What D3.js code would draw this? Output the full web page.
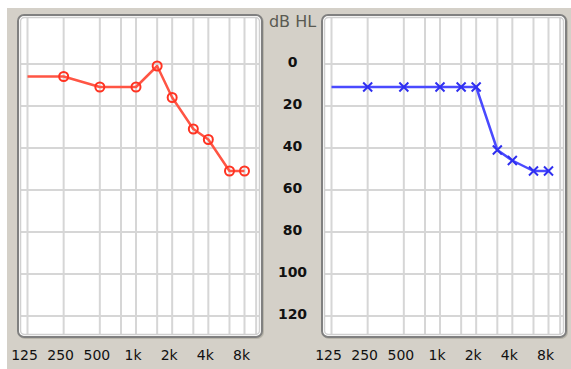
<!DOCTYPE html>
<html>
<head>
<meta charset="utf-8">
<script src="https://cdn.jsdelivr.net/npm/d3@7"></script>
<style>
  body { margin: 0; background: #fff; }
  svg text { font-family: "DejaVu Sans", Verdana, sans-serif; }
</style>
</head>
<body>
<svg id="chart" width="571" height="369"></svg>
<script>
// audiogram values (dB HL)
const freqs = [125, 250, 500, 1000, 1500, 2000, 3000, 4000, 6000, 8000];
const rightEar = [5, 5, 10, 10, 0, 15, 30, 35, 50, 50];
const leftEar = [10, 10, 10, 10, 10, 10, 40, 45, 50, 50];
const gridFreqs = [125, 250, 500, 750, 1000, 1500, 2000, 3000, 4000, 6000, 8000, 10000];
const labelFreqs = [125, 250, 500, 1000, 2000, 4000, 8000];
const freqLabels = ['125', '250', '500', '1k', '2k', '4k', '8k'];
const dbTicks = [0, 20, 40, 60, 80, 100, 120];

const width = 571;
const height = 369;
const svg = d3.select('#chart');

const panelW = 244, panelTop = 15, panelBottom = 337;
const panels = [
  { x0: 18, data: rightEar, color: '#ff3322', line: '#ff5544', mark: 'circle' },
  { x0: 322, data: leftEar, color: '#2f2ff0', line: '#4a4aff', mark: 'cross' }
];

// dB scale shared by both panels and the middle labels
const y = d3.scaleLinear().domain([0, 120]).range([64, 316]);

svg.append('rect')
  .attr('x', 7).attr('y', 8)
  .attr('width', width - 7).attr('height', height - 8)
  .attr('fill', '#d4d0c8');

const defs = svg.append('defs');

panels.forEach((p, idx) => {
  const x = d3.scaleLog()
    .domain([125, 8000])
    .range([p.x0 + 9.5, p.x0 + 226.5]);

  const clipId = 'clip' + idx;
  defs.append('clipPath').attr('id', clipId)
    .append('rect')
    .attr('x', p.x0 + 2).attr('y', panelTop + 2)
    .attr('width', panelW - 4).attr('height', panelBottom - panelTop - 4)
    .attr('rx', 5);

  // panel background + frame
  svg.append('rect')
    .attr('x', p.x0 + 1).attr('y', panelTop + 1)
    .attr('width', panelW).attr('height', panelBottom - panelTop)
    .attr('rx', 6)
    .attr('fill', 'none')
    .attr('stroke', '#b8b5aa')
    .attr('stroke-width', 2);
  svg.append('rect')
    .attr('x', p.x0).attr('y', panelTop)
    .attr('width', panelW).attr('height', panelBottom - panelTop)
    .attr('rx', 6)
    .attr('fill', '#fff')
    .attr('stroke', '#808080')
    .attr('stroke-width', 2);

  const g = svg.append('g').attr('clip-path', `url(#${clipId})`);

  g.selectAll('.vgrid')
    .data(gridFreqs)
    .enter()
    .append('line')
    .attr('class', 'vgrid')
    .attr('x1', d => x(d)).attr('x2', d => x(d))
    .attr('y1', panelTop).attr('y2', panelBottom)
    .attr('stroke', '#d6d6d6')
    .attr('stroke-width', 2);

  g.selectAll('.hgrid')
    .data(dbTicks)
    .enter()
    .append('line')
    .attr('class', 'hgrid')
    .attr('x1', p.x0).attr('x2', p.x0 + panelW)
    .attr('y1', d => y(d)).attr('y2', d => y(d))
    .attr('stroke', '#d6d6d6')
    .attr('stroke-width', 2);

  // inner light edge
  svg.append('rect')
    .attr('x', p.x0 + 2.5).attr('y', panelTop + 2.5)
    .attr('width', panelW - 5).attr('height', panelBottom - panelTop - 5)
    .attr('rx', 4)
    .attr('fill', 'none')
    .attr('stroke', '#d0d0d0')
    .attr('stroke-width', 1.5);

  const pts = freqs.map((f, i) => ({ f: f, v: p.data[i] }));
  const dg = g.append('g').attr('transform', 'translate(0,2)');

  dg.append('path')
    .datum(pts)
    .attr('fill', 'none')
    .attr('stroke', p.line)
    .attr('stroke-width', 2.5)
    .attr('stroke-linejoin', 'round')
    .attr('d', d3.line().x(d => x(d.f)).y(d => y(d.v)));

  // first point (125 Hz) has no symbol in the original
  const marks = dg.selectAll('.mark')
    .data(pts.slice(1))
    .enter()
    .append('g')
    .attr('class', 'mark')
    .attr('transform', d => `translate(${x(d.f)},${y(d.v)})`);

  if (p.mark === 'circle') {
    marks.append('circle')
      .attr('r', 4.5)
      .attr('fill', 'none')
      .attr('stroke', p.color)
      .attr('stroke-width', 2);
  } else {
    marks.append('path')
      .attr('d', 'M-4.5,-4.5L4.5,4.5M-4.5,4.5L4.5,-4.5')
      .attr('stroke', p.color)
      .attr('stroke-width', 2);
  }

  // frequency labels
  const xAxis = d3.axisBottom(x)
    .tickValues(labelFreqs)
    .tickFormat((d, i) => freqLabels[i])
    .tickSize(0)
    .tickPadding(0);
  const ax = svg.append('g')
    .attr('transform', 'translate(-3.5,355)')
    .call(xAxis);
  ax.select('.domain').remove();
  ax.selectAll('text')
    .attr('dy', '0.35em')
    .style('font-family', '"DejaVu Sans", Verdana, sans-serif')
    .style('font-size', '14px')
    .attr('fill', '#111');
});

// dB HL labels in the middle column
svg.append('text')
  .attr('x', 292.5).attr('y', 22)
  .attr('text-anchor', 'middle')
  .attr('dominant-baseline', 'middle')
  .style('font-size', '16px')
  .attr('fill', '#5a5a52')
  .text('dB HL');

const yAxis = d3.axisRight(y)
  .tickValues(dbTicks)
  .tickSize(0)
  .tickPadding(0);
const ay = svg.append('g')
  .attr('transform', 'translate(292.5,-2)')
  .call(yAxis);
ay.select('.domain').remove();
ay.selectAll('text')
  .attr('x', 0)
  .attr('text-anchor', 'middle')
  .style('font-family', '"DejaVu Sans", Verdana, sans-serif')
  .style('font-size', '14px')
  .style('font-weight', 'bold')
  .attr('fill', '#111');
</script>
</body>
</html>
